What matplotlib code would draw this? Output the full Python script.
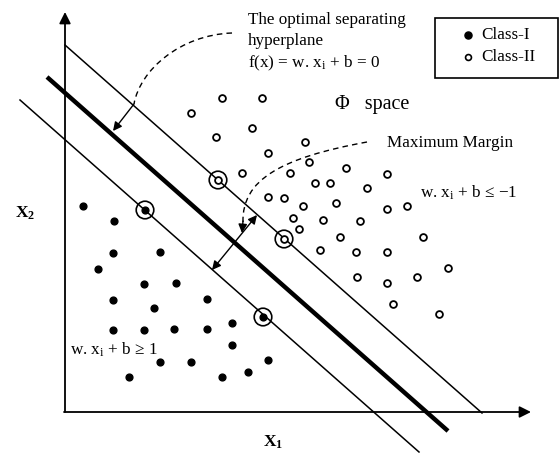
import matplotlib
matplotlib.use("Agg")
import matplotlib.pyplot as plt
from matplotlib.path import Path
from matplotlib.patches import PathPatch, Rectangle

plt.rcParams['font.family'] = ['Liberation Serif', 'DejaVu Serif']
plt.rcParams['mathtext.fontset'] = 'custom'
plt.rcParams['mathtext.rm'] = 'Liberation Serif'
plt.rcParams['mathtext.it'] = 'Liberation Serif'
plt.rcParams['mathtext.bf'] = 'Liberation Serif:bold'

# points (pixel space, y down)
class1_x = [83, 114, 113, 160, 98, 144, 176, 113, 207, 154, 113, 144, 174, 207,
            232, 232, 160, 191, 129, 222, 248, 268]
class1_y = [206, 221, 253, 252, 269, 284, 283, 300, 299, 308, 330, 330, 329, 329,
            323, 345, 362, 362, 377, 377, 372, 360]
class2_x = [222, 262, 191, 252, 216, 268, 242, 268, 305, 309, 290, 346, 315, 330,
            387, 367, 284, 303, 336, 387, 407, 293, 323, 360, 299, 340, 320, 356,
            357, 423, 387, 448, 387, 417, 393, 439]
class2_y = [98, 98, 113, 128, 137, 153, 173, 197, 142, 162, 173, 168, 183, 183,
            174, 188, 198, 206, 203, 209, 206, 218, 220, 221, 229, 237, 250, 252,
            277, 237, 252, 268, 283, 277, 304, 314]
sv1_x = [145, 263]
sv1_y = [210, 317]
sv2_x = [218, 284]
sv2_y = [180, 239]

# hyperplane and margin lines (endpoints)
upper_x, upper_y = [65, 482], [45, 413]
hyper_x, hyper_y = [47, 448], [77, 431]
lower_x, lower_y = [20, 419], [100, 452]

fig = plt.figure(figsize=(5.59, 4.54), dpi=100)
ax = fig.add_axes([0, 0, 1, 1])
ax.set_xlim(0, 559)
ax.set_ylim(454, 0)
ax.axis('off')

# axes with arrows
axis_style = dict(arrowstyle='-|>', lw=1.3, color='k', mutation_scale=17, shrinkA=0, shrinkB=0)
ax.annotate('', xy=(65, 12), xytext=(65, 412), arrowprops=axis_style)
ax.annotate('', xy=(531, 412), xytext=(64, 412), arrowprops=axis_style)

ax.plot(upper_x, upper_y, color='k', lw=1.1)
ax.plot(lower_x, lower_y, color='k', lw=1.1)
ax.plot(hyper_x, hyper_y, color='k', lw=3.2, solid_capstyle='butt')

ax.scatter(class1_x, class1_y, s=24, c='k', zorder=3)
ax.scatter(class2_x, class2_y, s=24, facecolors='white', edgecolors='k', linewidths=1.3, zorder=3)
ax.scatter(sv1_x, sv1_y, s=24, c='k', zorder=3)
ax.scatter(sv2_x, sv2_y, s=24, facecolors='white', edgecolors='k', linewidths=1.3, zorder=3)
ax.scatter(sv1_x + sv2_x, sv1_y + sv2_y, s=160, facecolors='none', edgecolors='k',
           linewidths=1.2, zorder=3)

# dashed pointers
small_arrow = dict(arrowstyle='-|>', lw=1.0, color='k', mutation_scale=13, shrinkA=0, shrinkB=0)
curve1 = Path([(232, 33), (180, 35), (140, 70), (134, 104)],
              [Path.MOVETO, Path.CURVE4, Path.CURVE4, Path.CURVE4])
ax.add_patch(PathPatch(curve1, fill=False, lw=1.0, ls=(0, (4, 3))))
ax.annotate('', xy=(113, 131), xytext=(134, 104), arrowprops=small_arrow)

curve2 = Path([(367, 142), (280, 158), (242, 180), (243, 222)],
              [Path.MOVETO, Path.CURVE4, Path.CURVE4, Path.CURVE4])
ax.add_patch(PathPatch(curve2, fill=False, lw=1.0, ls=(0, (4, 3))))
ax.annotate('', xy=(242, 233), xytext=(243, 221), arrowprops=small_arrow)

# margin double arrow
ax.annotate('', xy=(257, 215), xytext=(212, 270),
            arrowprops=dict(arrowstyle='<|-|>', lw=1.0, color='k', mutation_scale=13,
                            shrinkA=0, shrinkB=0))

# text
fs = 12.3
ax.text(248, 20, 'The optimal separating', fontsize=fs, va='center')
ax.text(248, 41, 'hyperplane', fontsize=fs, va='center')
ax.text(248, 63, r'f(x) = w. x$_{\rm i}$ + b = 0', fontsize=fs, va='center')
ax.text(335, 104, 'Φ   space', fontsize=14.5, va='center')
ax.text(387, 143, 'Maximum Margin', fontsize=fs, va='center')
ax.text(420, 193, r'w. x$_{\rm i}$ + b ≤ −1', fontsize=fs, va='center')
ax.text(70, 350, r'w. x$_{\rm i}$ + b ≥ 1', fontsize=fs, va='center')
ax.text(15, 213, r'$\mathbf{X}_{\mathbf{2}}$', fontsize=12.5, va='center')
ax.text(263, 442, r'$\mathbf{X}_{\mathbf{1}}$', fontsize=12.5, va='center')

# legend
ax.add_patch(Rectangle((435, 18), 123, 60, fill=False, lw=1.2, ec='k'))
ax.scatter([468], [35], s=26, c='k')
ax.scatter([468], [57], s=18, facecolors='white', edgecolors='k', linewidths=1.2)
ax.text(481, 35, 'Class-I', fontsize=fs, va='center')
ax.text(481, 57, 'Class-II', fontsize=fs, va='center')

fig.savefig('out.png', dpi=100)
